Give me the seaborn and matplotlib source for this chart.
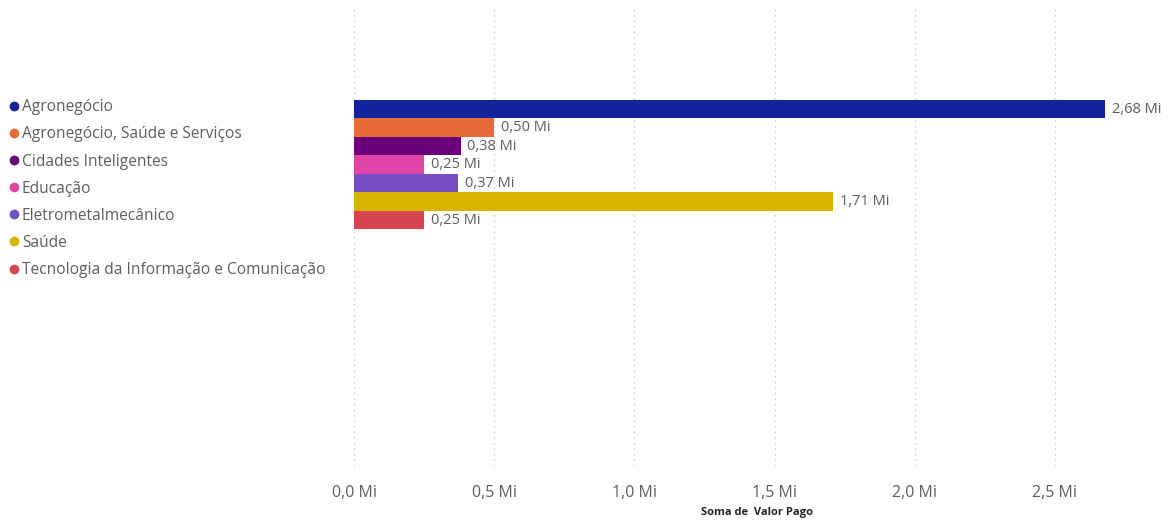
import matplotlib
matplotlib.use("Agg")
import matplotlib.pyplot as plt
from matplotlib.lines import Line2D
from matplotlib.ticker import FuncFormatter, MultipleLocator
import seaborn as sns
import pandas as pd

# Total paid per sector, in millions
setores = [
    "Agronegócio",
    "Agronegócio, Saúde e Serviços",
    "Cidades Inteligentes",
    "Educação",
    "Eletrometalmecânico",
    "Saúde",
    "Tecnologia da Informação e Comunicação",
]
valor_pago_mi = [2.68, 0.50, 0.38, 0.25, 0.37, 1.71, 0.25]
cores = ["#12239E", "#E66C37", "#6B007B", "#E044A7", "#744EC2", "#D9B300", "#D64550"]

df = pd.DataFrame({"grupo": [""] * len(setores), "setor": setores, "valor": valor_pago_mi})

sns.set_theme(style="white")
plt.rcParams["font.family"] = ["Open Sans", "DejaVu Sans"]

fig = plt.figure(figsize=(11.71, 5.22), dpi=100)
ax = fig.add_axes([354 / 1171, 1 - 466 / 522, (1160 - 354) / 1171, (466 - 5) / 522])

sns.barplot(data=df, y="grupo", x="valor", hue="setor", hue_order=setores,
            palette=cores, orient="h", width=0.8, saturation=1, ax=ax,
            legend=False, linewidth=0)

ax.set_xlim(0, 2.875)
ax.set_ylim(1.86, -0.985)
ax.xaxis.set_major_locator(MultipleLocator(0.5))
ax.xaxis.set_major_formatter(FuncFormatter(lambda v, p: f"{v:.1f}".replace(".", ",") + " Mi"))
ax.grid(axis="x", color="#C8C8C8", linestyle=(0, (1, 3)), linewidth=1)
ax.grid(axis="y", visible=False)
for s in ax.spines.values():
    s.set_visible(False)
ax.set_yticks([])
ax.set_ylabel("")
ax.tick_params(axis="x", length=0, pad=14, labelsize=11.5, labelcolor="#605E5C")
ax.set_xlabel("Soma de  Valor Pago", fontsize=8, fontweight="bold", color="#252423",
              labelpad=4)

# value labels at the end of each bar
for cont in ax.containers:
    ax.bar_label(cont, labels=[f"{v:.2f}".replace(".", ",") + " Mi" for v in cont.datavalues],
                 padding=5, fontsize=10.5, color="#605E5C")

handles = [Line2D([0], [0], marker="o", linestyle="", markersize=6,
                  markerfacecolor=c, markeredgecolor=c) for c in cores]
fig.legend(handles, setores, loc="upper left", bbox_to_anchor=(-0.004, 1 - 90 / 522),
           frameon=False, fontsize=11.2, labelcolor="#605E5C", handletextpad=-0.1,
           handlelength=1.2, labelspacing=0.715, borderaxespad=0.2)

fig.savefig("out.png", dpi=100)
